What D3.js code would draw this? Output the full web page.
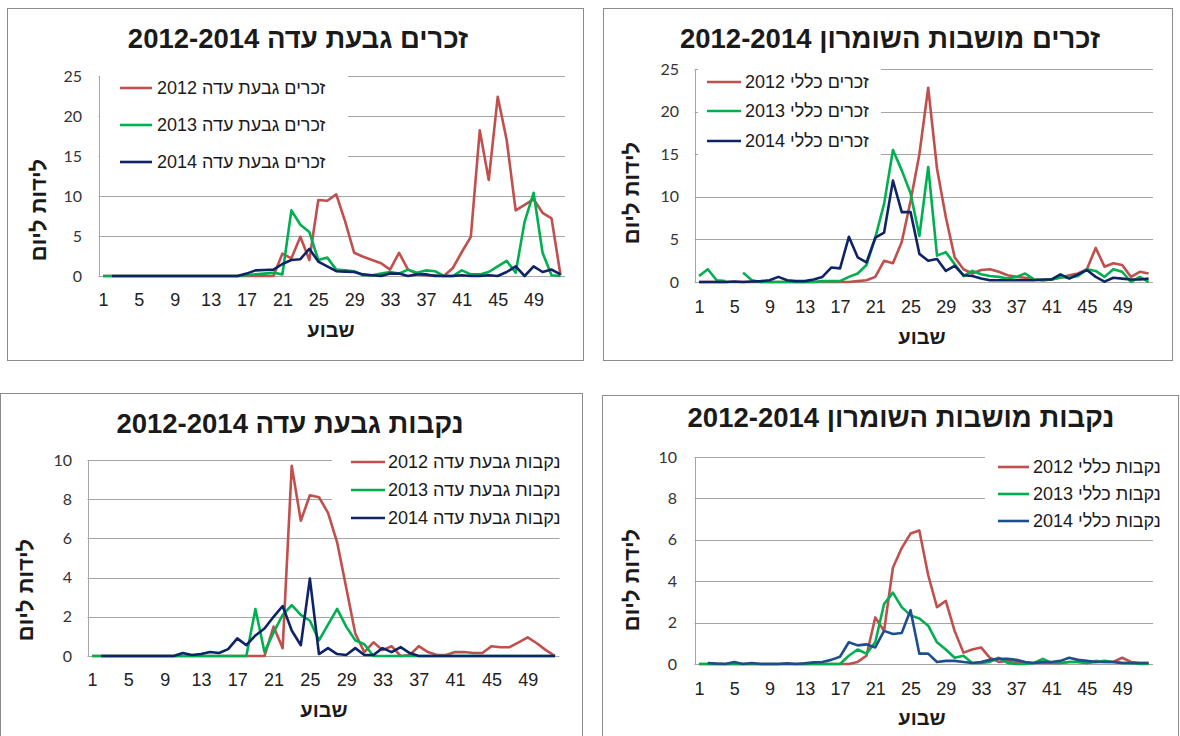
<!DOCTYPE html>
<html lang="he">
<head>
<meta charset="utf-8">
<title>births per day 2012-2014</title>
<script src="https://cdn.jsdelivr.net/npm/d3@7"></script>
<style>
  body { margin: 0; background: #fff; }
  svg text { font-family: "Liberation Sans", Arial, sans-serif; fill: #1a1a1a; }
  .frame { fill: none; stroke: #8c8c8c; stroke-width: 1px; }
  .grid line { stroke: #a6a6a6; stroke-width: 1px; }
  .yline { stroke: #a6a6a6; stroke-width: 1px; }
  .title { font-weight: bold; font-size: 27.5px; }
  .axtitle { font-weight: bold; font-size: 20px; }
  .ytitle { font-weight: bold; font-size: 22px; }
  .ytick text { font-family: Lato, "Liberation Sans", sans-serif; font-size: 16px; fill: #333; }
  .xtick text { font-size: 18px; fill: #222; }
  .legend text { font-size: 18px; }
  .series { fill: none; stroke-width: 2.6px; stroke-linejoin: round; }
</style>
</head>
<body>
<svg id="chart" width="1180" height="736"></svg>
<script>
// weeks 1..52 and the labelled ones
var weeks = d3.range(1, 53);
var xTickWeeks = [1, 5, 9, 13, 17, 21, 25, 29, 33, 37, 41, 45, 49];
var years = ["2012", "2013", "2014"];
var yearColors = ["#c0504d", "#00b050", "#0f2466"];

var titles = ["זכרים גבעת עדה 2012-2014", "זכרים מושבות השומרון 2012-2014",
              "נקבות גבעת עדה 2012-2014", "נקבות מושבות השומרון  2012-2014"];
var legendNames = ["זכרים גבעת עדה ", "זכרים כללי ", "נקבות גבעת עדה ", "נקבות כללי "];
var yTitle = "לידות ליום";
var xTitle = "שבוע";

// males, Givat Ada
var maleGivat2012 = [0,0,0,0,0,0,0,0,0,0,0,0,0,0,0,0,0,0,0,0,
  2.8,2.2,4.9,2.0,9.5,9.4,10.2,6.8,2.9,2.4,2.0,1.6,0.8,2.9,0.8,0.3,0.1,0.1,0,1.0,
  3.0,4.9,18.2,12.0,22.4,17.0,8.2,8.9,9.6,7.9,7.2,0.1];
var maleGivat2013 = [0,0,0,0,0,0,0,0,0,0,0,0,0,0,0,0,0.1,0.2,0.3,0.4,
  0.2,8.2,6.4,5.5,2.0,2.3,0.8,0.7,0.6,0.1,0.1,0.3,0.5,0.3,0.8,0.4,0.7,0.6,0,0,
  0.7,0.2,0.2,0.5,1.2,1.9,0.4,6.8,10.4,2.9,0.1,0];
var maleGivat2014 = [null,0,0,0,0,0,0,0,0,0,0,0,0,0,0,0,0.3,0.7,0.75,0.8,
  1.5,2.0,2.1,3.4,1.8,1.2,0.6,0.55,0.5,0.2,0.1,0,0.3,0.3,0,0.2,0.2,0,0,0,
  0.1,0,0,0.1,0,0.5,1.2,0,1.2,0.5,0.8,0.2];

// males, all settlements
var maleAll2012 = [0,0,0,0,0,0,0,0,0,0,0,0,0,0,0,0,0,0,0.1,0.2,
  0.6,2.5,2.2,4.7,9.5,15.0,22.8,13.3,7.6,2.9,1.5,1.0,1.4,1.5,1.2,0.8,0.6,0.5,0.3,0.2,
  0.3,0.5,0.8,1.0,1.5,4.0,1.8,2.2,2.0,0.6,1.2,1.0];
var maleAll2013 = [0.7,1.5,0.2,0.1,null,1.1,0.2,0,0,0,0,0,0,0,0.1,0.1,0.1,0.6,1.0,2.0,
  5.2,9.2,15.5,13.1,10.4,5.4,13.5,3.1,3.5,2.1,0.7,1.3,0.9,0.7,0.6,0.4,0.6,1.0,0.3,0.2,
  0.3,0.6,0.5,0.7,1.5,1.3,0.6,1.5,1.2,0,0.6,0];
var maleAll2014 = [0,0,0,0,0.05,0,0.05,0.1,0.2,0.6,0.2,0.1,0.1,0.3,0.6,1.7,1.6,5.3,2.9,2.3,
  5.2,5.8,11.9,8.2,8.2,3.3,2.5,2.7,1.3,1.9,0.8,0.7,0.4,0.2,0.2,0.2,0.2,0.2,0.2,0.3,
  0.3,0.9,0.4,0.9,1.4,0.6,0.05,0.5,0.4,0.3,0.3,0.4];

// females, Givat Ada
var femaleGivat2012 = [0,0,0,0,0,0,0,0,0,0,0,0,0,0,0,0,0,0,0,0,
  1.5,0.4,9.7,6.9,8.2,8.1,7.3,5.8,3.5,1.15,0.2,0.7,0.3,0.5,0,0.05,0.5,0.2,0.05,0.05,
  0.2,0.2,0.15,0.15,0.5,0.45,0.45,0.7,0.95,0.65,0.3,0];
var femaleGivat2013 = [0,0,0,0,0,0,0,0,0,0,0,0,0,0,0,0,0,0,2.4,0.2,
  1.2,2.1,2.6,2.1,1.8,0.8,1.6,2.4,1.5,0.8,0.6,0,0,0,0,0,0,0,0,0,
  0,0,0,0,0,0,0,0,0,0,0,0];
var femaleGivat2014 = [null,0,0,0,0,0,0,0,0,0,0.15,0.05,0.1,0.2,0.15,0.35,0.9,0.55,1.05,1.4,
  2.0,2.55,1.3,0.55,3.95,0.1,0.4,0.1,0.05,0.4,0.05,0.05,0.4,0.2,0.45,0.15,0,0,0,0,
  0,0,0,0,0,0,0,0,0,0,0,0];

// females, all settlements
var femaleAll2012 = [0,0,0,0,0,0,0,0,0,0,0,0,0,0,0,0,0,0,0.1,0.4,
  2.25,1.6,4.65,5.6,6.3,6.45,4.3,2.75,3.05,1.6,0.55,0.7,0.8,0.3,0.1,0.15,0.1,0.05,0.05,0.05,
  0.05,0.05,0.1,0.1,0.05,0.15,0.1,0.1,0.3,0.1,0.05,0.05];
var femaleAll2013 = [0,0,0,0,0,0,0,0,0,0,0,0,0,0,0,0,0,0.4,0.7,0.5,
  1.05,2.9,3.45,2.75,2.35,2.2,1.85,1.05,0.7,0.3,0.4,0.05,0.05,0.1,0.3,0.05,0,0,0.05,0.25,
  0.05,0.05,0.1,0.1,0.05,0.1,0.15,0.1,0.05,0.05,0,0];
var femaleAll2014 = [null,0.05,0.02,0,0.1,0,0.05,0,0,0,0.03,0,0.03,0.08,0.1,0.2,0.35,1.05,0.9,0.95,
  0.8,1.6,1.45,1.5,2.6,0.5,0.5,0.1,0.15,0.15,0.1,0.05,0.1,0.2,0.25,0.25,0.2,0.1,0.05,0.1,
  0.1,0.15,0.3,0.2,0.15,0.1,0.1,0.1,0.05,0.05,0.05,0.05];

var yTicks25 = [0, 5, 10, 15, 20, 25];
var yTicks10 = [0, 2, 4, 6, 8, 10];

// panel layout (pixels)
var panels = [
  { title: titles[0], legend: legendNames[0], series: [maleGivat2012, maleGivat2013, maleGivat2014],
    colors: yearColors, yTicks: yTicks25,
    frame: [7, 8, 583, 360], x0: 98.5, x1: 565, yBottom: 276, yTop: 76,
    titleXY: [298, 38], yTitleXY: [38, 210], xTitleXY: [331, 330], xLabY: 300, yLabX: 82,
    legLine: [120, 152], legText: 157, legRows: [88, 125, 162], legBox: [100, 68, 348, 180] },
  { title: titles[1], legend: legendNames[1], series: [maleAll2012, maleAll2013, maleAll2014],
    colors: yearColors, yTicks: yTicks25,
    frame: [603, 8, 1172, 360], x0: 694.6, x1: 1153, yBottom: 282, yTop: 69,
    titleXY: [890, 38], yTitleXY: [631, 193], xTitleXY: [922, 337], xLabY: 307, yLabX: 679,
    legLine: [707, 741], legText: 745, legRows: [82, 111, 141], legBox: [698, 62, 881, 165] },
  { title: titles[2], legend: legendNames[2], series: [femaleGivat2012, femaleGivat2013, femaleGivat2014],
    colors: yearColors, yTicks: yTicks10,
    frame: [0, 393, 582, 800], x0: 87.5, x1: 559.5, yBottom: 656, yTop: 460,
    titleXY: [290, 423], yTitleXY: [25, 590], xTitleXY: [324, 710], xLabY: 680, yLabX: 72,
    legLine: [351, 385], legText: 388, legRows: [462, 490, 518], legBox: [332, 450, 578, 530] },
  { title: titles[3], legend: legendNames[3], series: [femaleAll2012, femaleAll2013, femaleAll2014],
    colors: ["#c0504d", "#00b050", "#1f4e8c"], yTicks: yTicks10,
    frame: [602, 395, 1178, 800], x0: 694.5, x1: 1153, yBottom: 664, yTop: 457,
    titleXY: [901, 417], yTitleXY: [631, 580], xTitleXY: [922, 718], xLabY: 689, yLabX: 677,
    legLine: [998, 1029], legText: 1033, legRows: [467, 494, 521], legBox: [985, 452, 1175, 532] }
];

var svg = d3.select("#chart");

function drawPanel(p) {
  var g = svg.append("g");
  var x = d3.scalePoint().domain(weeks).range([p.x0, p.x1]).padding(0.5);
  var ymax = p.yTicks[p.yTicks.length - 1];
  var y = d3.scaleLinear().domain([0, ymax]).range([p.yBottom, p.yTop]);

  g.append("rect").attr("class", "frame")
    .attr("x", p.frame[0] + 0.5).attr("y", p.frame[1] + 0.5)
    .attr("width", p.frame[2] - p.frame[0]).attr("height", p.frame[3] - p.frame[1]);

  g.append("g").attr("class", "grid").selectAll("line")
    .data(p.yTicks).join("line")
      .attr("x1", p.x0).attr("x2", p.x1)
      .attr("y1", function(d) { return Math.round(y(d)) + 0.5; })
      .attr("y2", function(d) { return Math.round(y(d)) + 0.5; });

  // legend sits on top of the grid
  g.append("rect").attr("fill", "#fff")
    .attr("x", p.legBox[0]).attr("y", p.legBox[1])
    .attr("width", p.legBox[2] - p.legBox[0]).attr("height", p.legBox[3] - p.legBox[1]);

  g.append("line").attr("class", "yline")
    .attr("x1", Math.round(p.x0) + 0.5).attr("x2", Math.round(p.x0) + 0.5)
    .attr("y1", y(0)).attr("y2", y(ymax));

  var yAxis = g.append("g").attr("class", "ytick")
    .attr("transform", "translate(" + p.yLabX + ",0)")
    .call(d3.axisLeft(y).tickValues(p.yTicks).tickSize(0).tickPadding(0).tickFormat(d3.format("d")));
  yAxis.select(".domain").remove();

  var xAxis = g.append("g").attr("class", "xtick")
    .attr("transform", "translate(0," + p.xLabY + ")")
    .call(d3.axisBottom(x).tickValues(xTickWeeks).tickSize(0).tickPadding(0));
  xAxis.select(".domain").remove();
  xAxis.selectAll("text").attr("y", 0).attr("dy", "0.35em");
  svg.selectAll(".tick text").attr("font-family", null).attr("font-size", null);

  var line = d3.line()
    .defined(function(d) { return d != null; })
    .x(function(d, i) { return x(weeks[i]); })
    .y(function(d) { return y(d); });

  p.series.forEach(function(s, i) {
    g.append("path").attr("class", "series")
      .attr("stroke", p.colors[i])
      .attr("d", line(s));
  });

  var leg = g.append("g").attr("class", "legend");
  years.forEach(function(yr, i) {
    leg.append("line")
      .attr("x1", p.legLine[0]).attr("x2", p.legLine[1])
      .attr("y1", p.legRows[i]).attr("y2", p.legRows[i])
      .attr("stroke", p.colors[i]).attr("stroke-width", 2.6);
    leg.append("text")
      .attr("x", p.legText).attr("y", p.legRows[i]).attr("dy", "0.35em")
      .attr("text-anchor", "start")
      .text(p.legend + yr);
  });

  g.append("text").attr("class", "title")
    .attr("x", p.titleXY[0]).attr("y", p.titleXY[1]).attr("dy", "0.35em")
    .attr("text-anchor", "middle").text(p.title);

  g.append("text").attr("class", "ytitle")
    .attr("transform", "translate(" + p.yTitleXY[0] + "," + p.yTitleXY[1] + ") rotate(-90)")
    .attr("dy", "0.35em").attr("text-anchor", "middle").text(yTitle);

  g.append("text").attr("class", "axtitle")
    .attr("x", p.xTitleXY[0]).attr("y", p.xTitleXY[1]).attr("dy", "0.35em")
    .attr("text-anchor", "middle").text(xTitle);
}

panels.forEach(drawPanel);
</script>
</body>
</html>
